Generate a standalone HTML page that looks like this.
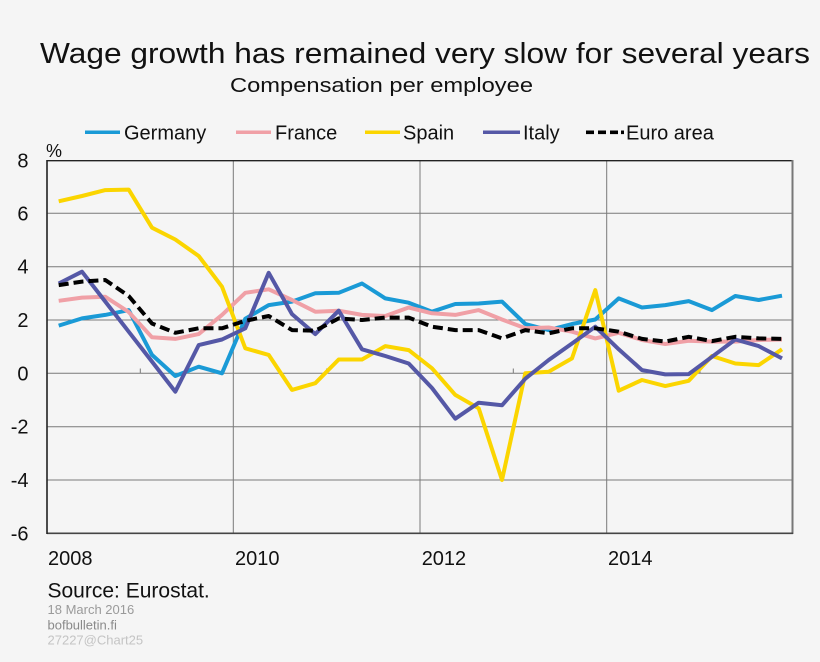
<!DOCTYPE html>
<html>
<head>
<meta charset="utf-8">
<style>
html,body{margin:0;padding:0;background:#f5f5f5;}
svg{display:block;}
text{font-family:"Liberation Sans",Arial,sans-serif;}
</style>
</head>
<body>
<svg width="820" height="662" viewBox="0 0 820 662" xmlns="http://www.w3.org/2000/svg">
<rect x="0" y="0" width="820" height="662" fill="#f5f5f5"/>

<!-- Title -->
<text x="40" y="63" font-size="29" fill="#111" textLength="770" lengthAdjust="spacingAndGlyphs">Wage growth has remained very slow for several years</text>
<text x="230" y="92" font-size="20" fill="#111" textLength="303" lengthAdjust="spacingAndGlyphs">Compensation per employee</text>

<!-- Legend -->
<line x1="85" y1="132.3" x2="120" y2="132.3" stroke="#1a9ad6" stroke-width="3.5"/>
<text x="124" y="139.3" font-size="20" fill="#111">Germany</text>
<line x1="236" y1="132.3" x2="271" y2="132.3" stroke="#f0a0a6" stroke-width="3.5"/>
<text x="275" y="139.3" font-size="20" fill="#111">France</text>
<line x1="365" y1="132.3" x2="400" y2="132.3" stroke="#fbd500" stroke-width="3.5"/>
<text x="403" y="139.3" font-size="20" fill="#111">Spain</text>
<line x1="483" y1="132.3" x2="520" y2="132.3" stroke="#5558a6" stroke-width="3.5"/>
<text x="523" y="139.3" font-size="20" fill="#111">Italy</text>
<g fill="#000">
<rect x="586" y="130.5" width="8" height="3.6"/>
<rect x="598" y="130.5" width="8" height="3.6"/>
<rect x="610" y="130.5" width="8" height="3.6"/>
<rect x="621" y="130.5" width="3" height="3.6"/>
</g>
<text x="626" y="139.3" font-size="20" fill="#111">Euro area</text>

<!-- % label -->
<text x="46" y="157" font-size="18" fill="#111">%</text>

<!-- Gridlines -->
<g stroke="#7a7a7a" stroke-width="1">
<line x1="47" y1="213.3" x2="792.5" y2="213.3"/>
<line x1="47" y1="266.7" x2="792.5" y2="266.7"/>
<line x1="47" y1="320" x2="792.5" y2="320"/>
<line x1="47" y1="373.3" x2="792.5" y2="373.3"/>
<line x1="47" y1="426.7" x2="792.5" y2="426.7"/>
<line x1="47" y1="480" x2="792.5" y2="480"/>
<line x1="233.3" y1="160.7" x2="233.3" y2="533.3"/>
<line x1="420" y1="160.7" x2="420" y2="533.3"/>
<line x1="606.7" y1="160.7" x2="606.7" y2="533.3"/>
<!-- minor ticks on zero line -->
<line x1="140.3" y1="368.5" x2="140.3" y2="373.3"/>
<line x1="326.7" y1="368.5" x2="326.7" y2="373.3"/>
<line x1="513.3" y1="368.5" x2="513.3" y2="373.3"/>
<line x1="700" y1="368.5" x2="700" y2="373.3"/>
</g>

<!-- Frame -->
<line x1="47" y1="160.7" x2="793" y2="160.7" stroke="#222" stroke-width="1.3"/>
<line x1="792.5" y1="160" x2="792.5" y2="534" stroke="#777" stroke-width="2"/>
<line x1="47" y1="533.3" x2="793" y2="533.3" stroke="#444" stroke-width="1.6"/>
<line x1="47" y1="160" x2="47" y2="534" stroke="#222" stroke-width="1.6"/>

<!-- Y labels -->
<g font-size="20" fill="#111" text-anchor="end">
<text x="28.5" y="167.7">8</text>
<text x="28.5" y="220.3">6</text>
<text x="28.5" y="273.7">4</text>
<text x="28.5" y="327">2</text>
<text x="28.5" y="380.3">0</text>
<text x="28.5" y="433.7">-2</text>
<text x="28.5" y="487">-4</text>
<text x="28.5" y="540.3">-6</text>
</g>

<!-- X labels -->
<g font-size="20" fill="#111">
<text x="48" y="565">2008</text>
<text x="235" y="565">2010</text>
<text x="421.7" y="565">2012</text>
<text x="608" y="565">2014</text>
</g>

<!-- Series -->
<g fill="none" stroke-width="4" stroke-linejoin="round" stroke-linecap="butt">
<polyline stroke="#1a9ad6" points="58.7,325.6 82.0,318.4 105.3,314.9 128.7,310.1 152.0,354.9 175.3,376.0 198.7,366.7 222.0,373.3 245.3,318.7 268.7,305.1 292.0,301.6 315.3,293.3 338.7,292.8 362.0,283.5 385.3,298.4 408.7,302.7 432.0,311.7 455.3,304.0 478.7,303.5 502.0,301.6 525.3,324.0 548.7,330.1 572.0,324.0 595.3,319.5 618.7,298.4 642.0,307.5 665.3,305.1 688.7,301.1 712.0,310.1 735.3,296.0 758.7,300.0 782.0,295.7"/>
<polyline stroke="#f0a0a6" points="58.7,300.8 82.0,297.6 105.3,296.8 128.7,312.0 152.0,337.3 175.3,338.9 198.7,334.1 222.0,314.9 245.3,292.8 268.7,289.3 292.0,300.0 315.3,311.7 338.7,310.7 362.0,314.9 385.3,316.0 408.7,307.5 432.0,313.3 455.3,314.9 478.7,310.1 502.0,319.5 525.3,328.3 548.7,327.5 572.0,331.7 595.3,338.4 618.7,332.8 642.0,340.0 665.3,344.0 688.7,340.8 712.0,341.6 735.3,341.6 758.7,340.0 782.0,339.5"/>
<polyline stroke="#fbd500" points="58.7,201.3 82.0,196.0 105.3,190.1 128.7,189.6 152.0,227.7 175.3,239.5 198.7,256.0 222.0,286.7 245.3,348.3 268.7,354.9 292.0,389.9 315.3,383.2 338.7,359.5 362.0,359.5 385.3,346.1 408.7,350.1 432.0,368.3 455.3,394.9 478.7,408.3 502.0,480.0 525.3,373.3 548.7,371.7 572.0,358.4 595.3,290.1 618.7,390.7 642.0,380.0 665.3,386.1 688.7,380.8 712.0,356.0 735.3,363.5 758.7,365.1 782.0,349.3"/>
<polyline stroke="#5558a6" points="58.7,283.5 82.0,271.7 105.3,301.6 128.7,331.7 152.0,361.6 175.3,391.7 198.7,345.1 222.0,339.5 245.3,328.3 268.7,272.8 292.0,314.1 315.3,334.1 338.7,310.7 362.0,349.3 385.3,356.0 408.7,363.5 432.0,388.0 455.3,418.7 478.7,402.7 502.0,405.3 525.3,378.7 548.7,360.0 572.0,343.5 595.3,326.7 618.7,349.3 642.0,370.1 665.3,374.4 688.7,374.1 712.0,356.8 735.3,339.5 758.7,346.1 782.0,358.4"/>
<polyline stroke="#000" stroke-dasharray="10,5" points="58.7,285.1 82.0,281.6 105.3,280.0 128.7,296.0 152.0,323.5 175.3,332.8 198.7,328.3 222.0,328.3 245.3,320.8 268.7,316.0 292.0,330.1 315.3,330.7 338.7,318.4 362.0,320.0 385.3,317.6 408.7,317.6 432.0,326.7 455.3,330.1 478.7,330.1 502.0,338.4 525.3,330.1 548.7,333.3 572.0,328.3 595.3,328.3 618.7,331.7 642.0,338.9 665.3,341.6 688.7,336.8 712.0,341.1 735.3,336.8 758.7,338.4 782.0,338.9"/>
</g>

<!-- Footer -->
<text x="47.5" y="597.7" font-size="21" fill="#111">Source: Eurostat.</text>
<text x="47.5" y="614" font-size="13" fill="#9a9a9a">18 March 2016</text>
<text x="47.5" y="629.3" font-size="13" fill="#8a8a8a">bofbulletin.fi</text>
<text x="47.5" y="644.3" font-size="13" fill="#c4c4c4">27227@Chart25</text>
</svg>
</body>
</html>
